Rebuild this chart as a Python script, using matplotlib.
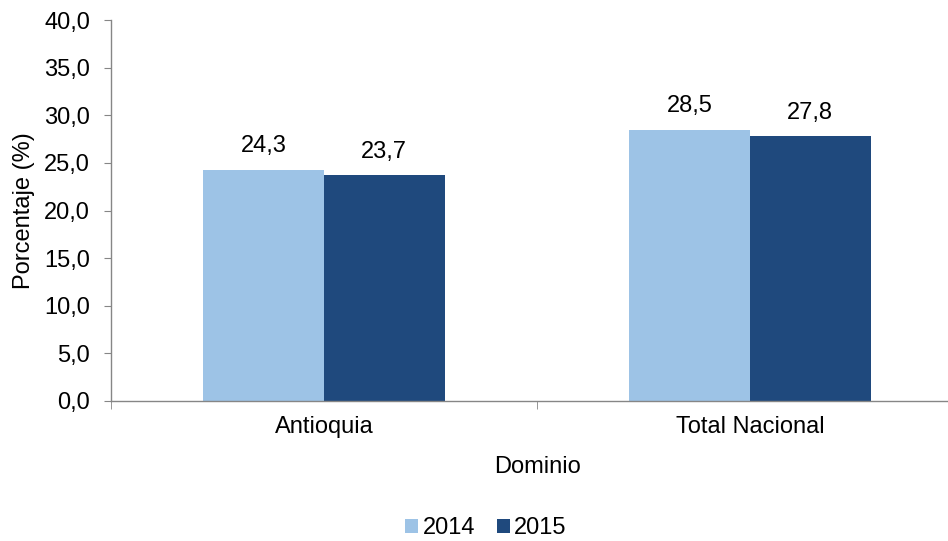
import matplotlib
matplotlib.use("Agg")
import matplotlib.pyplot as plt
import numpy as np

categories = ["Antioquia", "Total Nacional"]
years = ["2014", "2015"]
values_2014 = [24.3, 28.5]
values_2015 = [23.7, 27.8]
yticks = [0, 5, 10, 15, 20, 25, 30, 35, 40]

plt.rcParams['font.family'] = ['Liberation Sans', 'DejaVu Sans']
FS = 17

W, H = 948, 541
fig = plt.figure(figsize=(W/100, H/100), dpi=100)
ax = fig.add_axes([111/W, 1 - 401/H, 852/W, 381/H])

c1 = "#9DC3E6"
c2 = "#1F497D"
x = np.arange(len(categories))
bw = 0.283
b1 = ax.bar(x - bw/2, values_2014, bw, color=c1, label=years[0])
b2 = ax.bar(x + bw/2, values_2015, bw, color=c2, label=years[1])

def fmt(v):
    return f"{v:.1f}".replace(".", ",")

for bars, vals in ((b1, values_2014), (b2, values_2015)):
    for r, v in zip(bars, vals):
        ax.annotate(fmt(v), (r.get_x() + r.get_width()/2, v), xytext=(0, 9),
                    textcoords="offset points", ha="center", va="bottom", fontsize=FS)

ax.set_xlim(-0.5, 1.5)
ax.set_ylim(0, 40)
ax.set_yticks(yticks)
ax.set_yticklabels([fmt(v) for v in yticks], fontsize=FS)
ax.set_xticks(x)
ax.set_xticklabels(categories, fontsize=FS)
ax.tick_params(axis="x", length=0, pad=11)
ax.set_xticks([-0.5, 0.5, 1.5], minor=True)
ax.tick_params(axis="x", which="minor", length=6, color="#868686")
ax.tick_params(axis="y", length=5, color="#868686", pad=10)

for s in ["top", "right"]:
    ax.spines[s].set_visible(False)
for s in ["left", "bottom"]:
    ax.spines[s].set_color("#868686")
    ax.spines[s].set_linewidth(1.0)

ax.set_ylabel("Porcentaje (%)", fontsize=FS, labelpad=7)
ax.set_xlabel("Dominio", fontsize=FS, labelpad=13)

fig.legend(handles=[b1, b2], labels=years, loc="center", bbox_to_anchor=(486/W, 1 - 528/H),
           ncol=2, frameon=False, fontsize=FS, handlelength=0.55, handleheight=0.55,
           handletextpad=0.2, columnspacing=0.9, borderpad=0.1)

fig.savefig("out.png", dpi=100)
